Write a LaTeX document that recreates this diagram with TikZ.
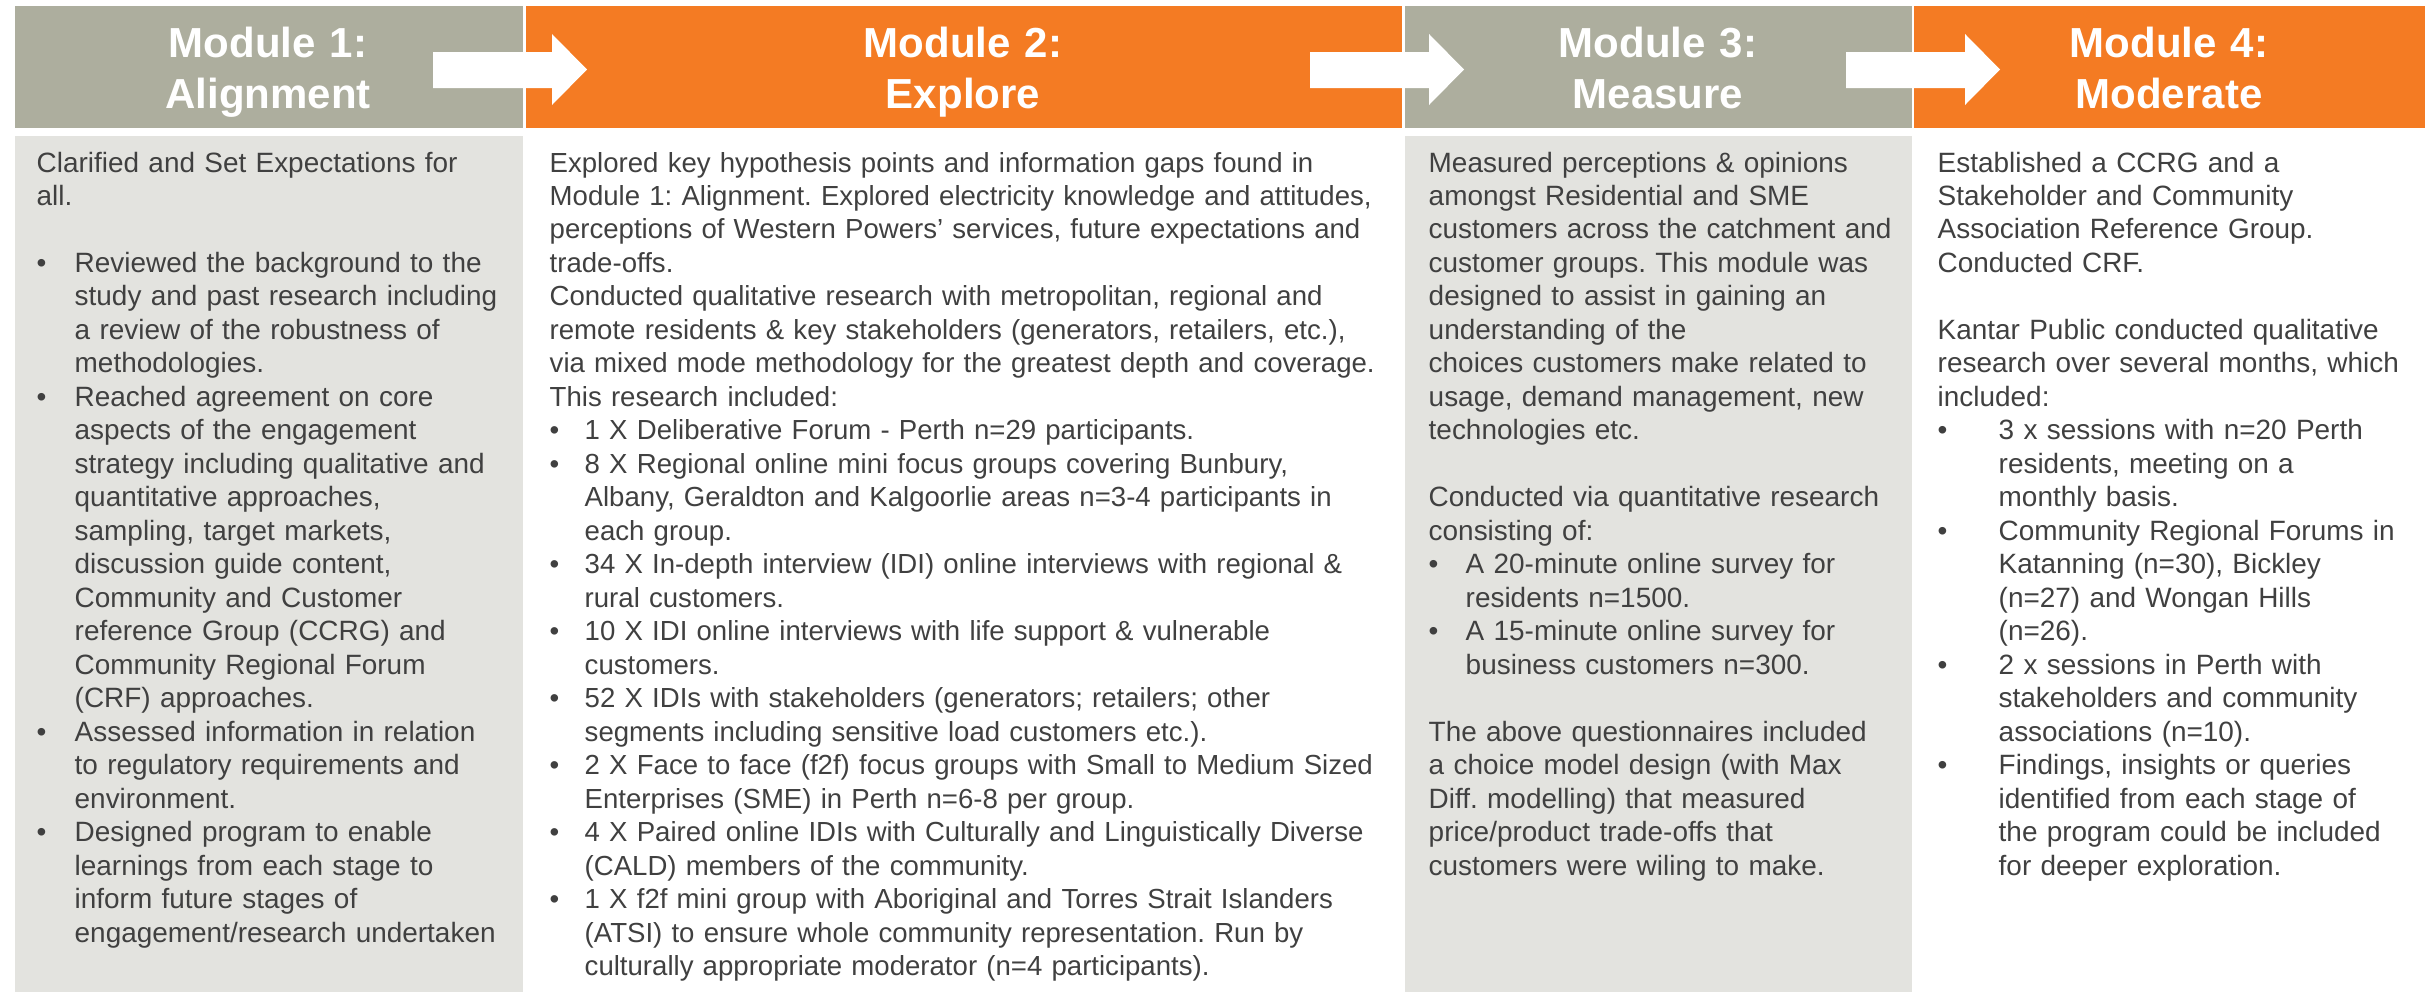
\documentclass[tikz,border=0pt]{standalone}
\usepackage{fontspec}
\setmainfont{Liberation Sans}
\frenchspacing

\definecolor{hdrgray}{RGB}{173,174,158}
\definecolor{hdrorange}{RGB}{244,123,35}
\definecolor{panelgray}{RGB}{227,227,223}
\definecolor{txtgray}{RGB}{64,64,64}

% bullet with hanging indent, and the matching indent for wrapped lines
\newcommand{\bul}[1]{\makebox[#1][l]{\textbullet}}
\newcommand{\ind}[1]{\hspace*{#1}}

\tikzset{
  hdr/.style={anchor=north west, inner sep=0pt, minimum height=12.2mm},
  hdrtext/.style={anchor=base, inner sep=0pt, text=white, align=center, text width=50mm,
    font=\bfseries\fontsize{11.95pt}{14.51pt}\selectfont},
  panel/.style={anchor=north west, inner sep=0pt, fill=panelgray, minimum height=85.7mm},
  bodytext/.style={anchor=base west, inner sep=0pt, text=txtgray, align=left,
    font=\fontsize{7.95pt}{9.53pt}\selectfont}
}

\begin{document}
\begin{tikzpicture}[x=0.1mm,y=-0.1mm]
\useasboundingbox (0,0) rectangle (2425,992);

% header bars
\node (h1) [hdr, fill=hdrgray, minimum width=50.8mm] at (14,5) {};
\node (h2) [hdr, fill=hdrorange, minimum width=87.6mm] at (525,5) {};
\node (h3) [hdr, fill=hdrgray, minimum width=50.7mm] at (1404,5) {};
\node (h4) [hdr, fill=hdrorange, minimum width=51.2mm] at (1913,5) {};

% shaded panels below modules 1 and 3
\node (b1) [panel, minimum width=50.8mm] at (14,135) {};
\node (b3) [panel, minimum width=50.7mm] at (1404,135) {};

% block arrows from one module to the next
\foreach \x in {433,1310,1846}
  { \fill[white] (\x,52) -- ++(119,0) -- ++(0,-18) -- ++(35,35.5)
      -- ++(-35,35.5) -- ++(0,-17) -- ++(-119,0) -- cycle; }

% module titles
\node (m1) [hdrtext] at (268,58) {Module 1:\\Alignment};
\node (m2) [hdrtext] at (963,58) {Module 2:\\Explore};
\node (m3) [hdrtext] at (1658,58) {Module 3:\\Measure};
\node (m4) [hdrtext] at (2169,58) {Module 4:\\Moderate};

% module 1
\node (t1) [bodytext, text width=60mm] at (36,172) {%
Clarified and Set Expectations for\\
all.\\[9.53pt]
\bul{3.8mm}Reviewed the background to the\\
\ind{3.8mm}study and past research including\\
\ind{3.8mm}a review of the robustness of\\
\ind{3.8mm}methodologies.\\
\bul{3.8mm}Reached agreement on core\\
\ind{3.8mm}aspects of the engagement\\
\ind{3.8mm}strategy including qualitative and\\
\ind{3.8mm}quantitative approaches,\\
\ind{3.8mm}sampling, target markets,\\
\ind{3.8mm}discussion guide content,\\
\ind{3.8mm}Community and Customer\\
\ind{3.8mm}reference Group (CCRG) and\\
\ind{3.8mm}Community Regional Forum\\
\ind{3.8mm}(CRF) approaches.\\
\bul{3.8mm}Assessed information in relation\\
\ind{3.8mm}to regulatory requirements and\\
\ind{3.8mm}environment.\\
\bul{3.8mm}Designed program to enable\\
\ind{3.8mm}learnings from each stage to\\
\ind{3.8mm}inform future stages of\\
\ind{3.8mm}engagement/research undertaken};

% module 2
\node (t2) [bodytext, text width=95mm, font=\fontsize{7.85pt}{9.53pt}\selectfont] at (549,172) {%
Explored key hypothesis points and information gaps found in\\
Module 1: Alignment. Explored electricity knowledge and attitudes,\\
perceptions of Western Powers’ services, future expectations and\\
trade-offs.\\
Conducted qualitative research with metropolitan, regional and\\
remote residents \& key stakeholders (generators, retailers, etc.),\\
via mixed mode methodology for the greatest depth and coverage.\\
This research included:\\
\bul{3.5mm}1 X Deliberative Forum - Perth n=29 participants.\\
\bul{3.5mm}8 X Regional online mini focus groups covering Bunbury,\\
\ind{3.5mm}Albany, Geraldton and Kalgoorlie areas n=3-4 participants in\\
\ind{3.5mm}each group.\\
\bul{3.5mm}34 X In-depth interview (IDI) online interviews with regional \&\\
\ind{3.5mm}rural customers.\\
\bul{3.5mm}10 X IDI online interviews with life support \& vulnerable\\
\ind{3.5mm}customers.\\
\bul{3.5mm}52 X IDIs with stakeholders (generators; retailers; other\\
\ind{3.5mm}segments including sensitive load customers etc.).\\
\bul{3.5mm}2 X Face to face (f2f) focus groups with Small to Medium Sized\\
\ind{3.5mm}Enterprises (SME) in Perth n=6-8 per group.\\
\bul{3.5mm}4 X Paired online IDIs with Culturally and Linguistically Diverse\\
\ind{3.5mm}(CALD) members of the community.\\
\bul{3.5mm}1 X f2f mini group with Aboriginal and Torres Strait Islanders\\
\ind{3.5mm}(ATSI) to ensure whole community representation. Run by\\
\ind{3.5mm}culturally appropriate moderator (n=4 participants).};

% module 3
\node (t3) [bodytext, text width=60mm] at (1428,172) {%
Measured perceptions \& opinions\\
amongst Residential and SME\\
customers across the catchment and\\
customer groups. This module was\\
designed to assist in gaining an\\
understanding of the\\
choices customers make related to\\
usage, demand management, new\\
technologies etc.\\[9.53pt]
Conducted via quantitative research\\
consisting of:\\
\bul{3.7mm}A 20-minute online survey for\\
\ind{3.7mm}residents n=1500.\\
\bul{3.7mm}A 15-minute online survey for\\
\ind{3.7mm}business customers n=300.\\[9.53pt]
The above questionnaires included\\
a choice model design (with Max\\
Diff. modelling) that measured\\
price/product trade-offs that\\
customers were wiling to make.};

% module 4
\node (t4) [bodytext, text width=60mm] at (1937,172) {%
Established a CCRG and a\\
Stakeholder and Community\\
Association Reference Group.\\
Conducted CRF.\\[9.53pt]
Kantar Public conducted qualitative\\
research over several months, which\\
included:\\
\bul{6.1mm}3 x sessions with n=20 Perth\\
\ind{6.1mm}residents, meeting on a\\
\ind{6.1mm}monthly basis.\\
\bul{6.1mm}Community Regional Forums in\\
\ind{6.1mm}Katanning (n=30), Bickley\\
\ind{6.1mm}(n=27) and Wongan Hills\\
\ind{6.1mm}(n=26).\\
\bul{6.1mm}2 x sessions in Perth with\\
\ind{6.1mm}stakeholders and community\\
\ind{6.1mm}associations (n=10).\\
\bul{6.1mm}Findings, insights or queries\\
\ind{6.1mm}identified from each stage of\\
\ind{6.1mm}the program could be included\\
\ind{6.1mm}for deeper exploration.};
\end{tikzpicture}
\end{document}
